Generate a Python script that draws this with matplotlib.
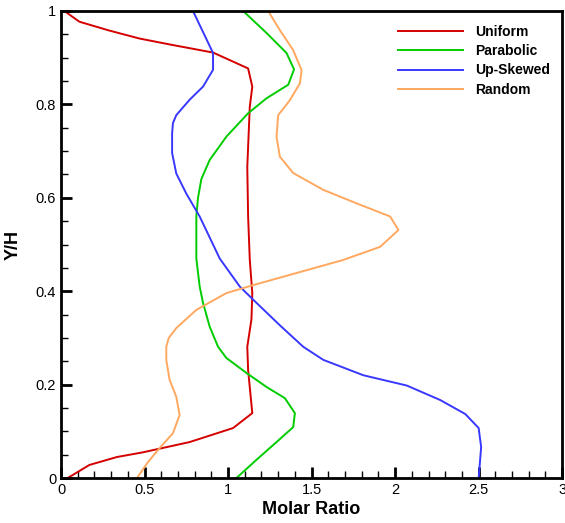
import matplotlib
matplotlib.use("Agg")
import matplotlib.pyplot as plt
from matplotlib.ticker import MultipleLocator, FuncFormatter

plt.rcParams['font.family'] = ['Liberation Sans', 'DejaVu Sans']

# Uniform (red)
uni_x = [0.02, 0.11, 0.29, 0.47, 0.67, 0.91, 1.12, 1.145, 1.13, 1.115, 1.12, 1.13, 1.145, 1.14, 1.115, 1.12, 1.145, 1.03, 0.77, 0.49, 0.335, 0.17, 0.04]
uni_y = [1.0, 0.977, 0.958, 0.941, 0.927, 0.911, 0.877, 0.838, 0.795, 0.666, 0.56, 0.467, 0.396, 0.34, 0.281, 0.231, 0.139, 0.107, 0.077, 0.055, 0.045, 0.028, 0.0]

# Parabolic (green)
par_x = [1.09, 1.23, 1.35, 1.395, 1.36, 1.23, 1.12, 0.99, 0.89, 0.84, 0.82, 0.81, 0.81, 0.83, 0.85, 0.89, 0.94, 0.99, 1.11, 1.23, 1.34, 1.40, 1.39, 1.29, 1.17, 1.05]
par_y = [1.0, 0.953, 0.91, 0.875, 0.842, 0.813, 0.781, 0.731, 0.681, 0.64, 0.6, 0.56, 0.47, 0.41, 0.375, 0.324, 0.281, 0.257, 0.225, 0.195, 0.171, 0.139, 0.109, 0.077, 0.039, 0.0]

# Up-Skewed (blue)
up_x = [0.79, 0.85, 0.91, 0.91, 0.85, 0.77, 0.69, 0.67, 0.665, 0.665, 0.69, 0.75, 0.83, 0.95, 1.07, 1.15, 1.31, 1.45, 1.57, 1.81, 2.07, 2.27, 2.42, 2.50, 2.515, 2.50]
up_y = [1.0, 0.955, 0.91, 0.874, 0.838, 0.81, 0.777, 0.76, 0.738, 0.696, 0.652, 0.609, 0.56, 0.47, 0.41, 0.382, 0.327, 0.281, 0.253, 0.22, 0.198, 0.167, 0.137, 0.107, 0.066, 0.0]

# Random (orange)
ran_x = [1.24, 1.31, 1.39, 1.44, 1.43, 1.37, 1.30, 1.29, 1.31, 1.39, 1.57, 1.77, 1.97, 2.02, 1.91, 1.69, 1.43, 1.15, 0.99, 0.81, 0.69, 0.645, 0.63, 0.63, 0.65, 0.69, 0.71, 0.67, 0.59, 0.52, 0.455]
ran_y = [1.0, 0.959, 0.916, 0.873, 0.845, 0.809, 0.777, 0.731, 0.688, 0.653, 0.617, 0.588, 0.56, 0.531, 0.495, 0.467, 0.441, 0.413, 0.396, 0.36, 0.321, 0.3, 0.281, 0.253, 0.21, 0.174, 0.135, 0.096, 0.064, 0.034, 0.0]

series = [
    ("Uniform", uni_x, uni_y, "#D40000"),
    ("Parabolic", par_x, par_y, "#00CC00"),
    ("Up-Skewed", up_x, up_y, "#3838FF"),
    ("Random", ran_x, ran_y, "#FFA860"),
]

fig = plt.figure(figsize=(5.65, 5.23), dpi=100)
ax = fig.add_axes([0.108, 0.086, 0.887, 0.893])

for name, xs, ys, c in series:
    ax.plot(xs, ys, color=c, lw=1.4, label=name, solid_joinstyle='round')

ax.set_xlim(0, 3)
ax.set_ylim(0, 1)
ax.xaxis.set_major_locator(MultipleLocator(0.5))
ax.xaxis.set_minor_locator(MultipleLocator(0.1))
ax.yaxis.set_major_locator(MultipleLocator(0.2))
ax.yaxis.set_minor_locator(MultipleLocator(0.05))
fmt = FuncFormatter(lambda v, p: ("%g" % round(v, 3)))
ax.xaxis.set_major_formatter(fmt)
ax.yaxis.set_major_formatter(fmt)
ax.tick_params(which='both', direction='in', top=False, right=False, labelsize=10.5)
ax.tick_params(which='major', length=8, width=2)
ax.tick_params(which='minor', length=5, width=1)
for s in ax.spines.values():
    s.set_linewidth(2)

ax.set_xlabel("Molar Ratio", fontsize=13, fontweight='bold', labelpad=3)
ax.set_ylabel("Y/H", fontsize=13, fontweight='bold', labelpad=10)

leg = ax.legend(loc='upper right', bbox_to_anchor=(1.0, 0.997), frameon=False,
                prop={'weight': 'bold', 'size': 10}, handlelength=4.7,
                labelspacing=0.38, handletextpad=0.85)

fig.savefig("out.png", dpi=100)
